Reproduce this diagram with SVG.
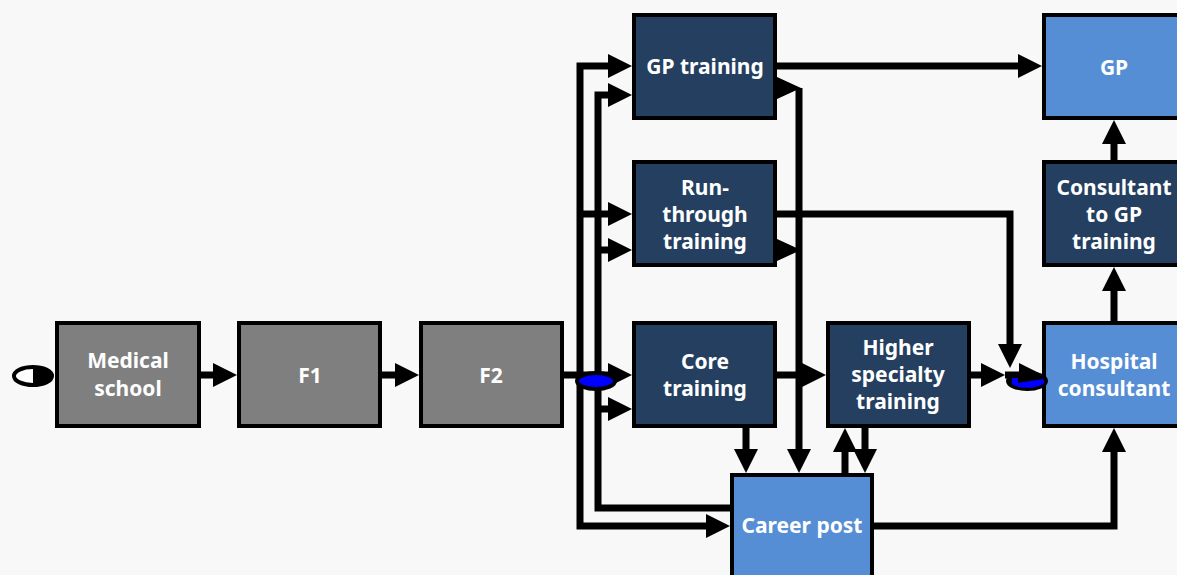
<svg xmlns="http://www.w3.org/2000/svg" width="1177" height="575" viewBox="0 0 1177 575">
<defs>
<marker id="ah" markerUnits="userSpaceOnUse" markerWidth="24" markerHeight="24" viewBox="0 0 24 24" refX="12" refY="12" orient="auto">
<path d="M0,0 L24,12 L0,24 z" fill="#000"/>
</marker>
<style>
.c{fill:none;stroke:#000;stroke-width:7;stroke-linejoin:miter;}
.a{marker-end:url(#ah);}
.box{stroke:#000;stroke-width:4;}
.gray{fill:#7f7f7f;}
.navy{fill:#243f60;}
.light{fill:#558ed5;}
text{font-family:"Noto Sans","Liberation Sans",sans-serif;font-weight:bold;font-size:21px;fill:#fff;text-anchor:middle;}
</style>
</defs>
<rect x="0" y="0" width="1177" height="575" fill="#f8f8f8"/>
<g id="connectors">
<path class="c a" d="M201,375 H225"/>
<path class="c a" d="M382,375 H407"/>
<path class="c a" d="M564,375 H620"/>
<path class="c a" d="M580,375 V66 H620"/>
<path class="c a" d="M580,214 H620"/>
<path class="c a" d="M580,375 V526 H718"/>
<path class="c a" d="M598,375 V95 H620"/>
<path class="c a" d="M598,250 H620"/>
<path class="c a" d="M598,409 H620"/>
<path class="c" d="M598,375 V508 H732"/>
<path class="c a" d="M777,66 H1030"/>
<polygon points="777,77 801,88 777,99" fill="#000"/>
<path class="c a" d="M799,88 V461"/>
<polygon points="777,239 801,250 777,261" fill="#000"/>
<path class="c a" d="M777,214 H1010 V356"/>
<path class="c a" d="M777,375 H814"/>
<path class="c a" d="M746,428 V461"/>
<path class="c a" d="M865,428 V461"/>
<path class="c a" d="M845,474 V440"/>
<path class="c a" d="M971,375 H993"/>
<path class="c a" d="M1005,375 H1031"/>
<path class="c a" d="M874,526 H1114 V440"/>
<path class="c a" d="M1114,322 V279"/>
<path class="c a" d="M1114,161 V132"/>
</g>
<g id="medical-school">
<rect class="box gray" x="57" y="323" width="142" height="103"/>
<text x="128" y="368">Medical</text>
<text x="128" y="396">school</text>
</g>
<g id="f1">
<rect class="box gray" x="239" y="323" width="141" height="103"/>
<text x="310" y="383">F1</text>
</g>
<g id="f2">
<rect class="box gray" x="421" y="323" width="141" height="103"/>
<text x="491" y="383">F2</text>
</g>
<g id="gp-training">
<rect class="box navy" x="634" y="15" width="141" height="103"/>
<text x="705" y="74">GP training</text>
</g>
<g id="run-through">
<rect class="box navy" x="634" y="162" width="141" height="103"/>
<text x="705" y="195">Run-</text>
<text x="705" y="222">through</text>
<text x="705" y="249">training</text>
</g>
<g id="core-training">
<rect class="box navy" x="634" y="323" width="141" height="103"/>
<text x="705" y="369">Core</text>
<text x="705" y="396">training</text>
</g>
<g id="higher-specialty">
<rect class="box navy" x="828" y="323" width="141" height="103"/>
<text x="898" y="355">Higher</text>
<text x="898" y="382">specialty</text>
<text x="898" y="409">training</text>
</g>
<g id="career-post">
<rect class="box light" x="732" y="475" width="140" height="103"/>
<text x="802" y="533">Career post</text>
</g>
<g id="gp">
<rect class="box light" x="1044" y="15" width="142" height="103"/>
<text x="1114" y="75">GP</text>
</g>
<g id="consultant-to-gp">
<rect class="box navy" x="1044" y="162" width="142" height="103"/>
<text x="1114" y="195">Consultant</text>
<text x="1114" y="222">to GP</text>
<text x="1114" y="249">training</text>
</g>
<g id="hospital-consultant">
<rect class="box light" x="1044" y="323" width="142" height="103"/>
<text x="1114" y="369">Hospital</text>
<text x="1114" y="396">consultant</text>
</g>
<g id="start">
<ellipse cx="33" cy="376" rx="19" ry="9" fill="#fff" stroke="#000" stroke-width="4"/>
<path d="M33,367 A19,9 0 0 1 33,385 Z" fill="#000"/>
</g>
<g id="junction-left">
<ellipse cx="596" cy="381" rx="19" ry="8" fill="#0000ff" stroke="#000" stroke-width="4"/>
</g>
<g id="junction-right">
<ellipse cx="1027" cy="381" rx="19" ry="8" fill="#000" stroke="#000" stroke-width="4"/>
<path d="M1012,384 A16,6 0 0 0 1043,379 Z" fill="#0000ff"/>
<path d="M1012,384 L1012,378 L1018,378 L1018,384 Z" fill="#0000ff"/>
</g>
</svg>
